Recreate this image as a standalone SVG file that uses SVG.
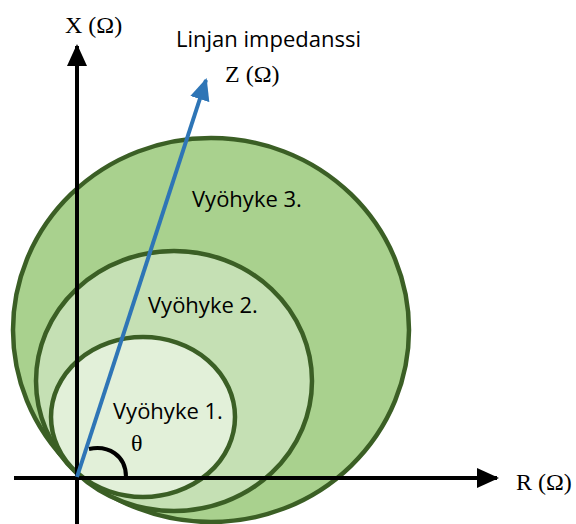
<svg xmlns="http://www.w3.org/2000/svg" width="576" height="524" viewBox="0 0 576 524">
<style>
.zone{stroke:#3b5f25;stroke-width:4.5}
.ax{stroke:#000;stroke-width:4;fill:none}
.sans{font-family:"Open Sans","Liberation Sans",sans-serif;font-size:22px;fill:#000}
.serif{font-family:"Liberation Serif","DejaVu Serif",serif;font-size:24px;fill:#000}
</style>
<defs>
<marker id="ab" markerUnits="userSpaceOnUse" markerWidth="22" markerHeight="20" refX="20" refY="10" orient="auto">
<path d="M0,0 L22,10 L0,20 Z" fill="#000"/>
</marker>
<marker id="bb" markerUnits="userSpaceOnUse" markerWidth="22" markerHeight="20" refX="20" refY="10" orient="auto">
<path d="M0,0 L22,10 L0,20 Z" fill="#2e75b6"/>
</marker>
</defs>
<g id="zone3"><ellipse class="zone" cx="211" cy="330" rx="198" ry="192" fill="#a9d18e"/></g>
<g id="zone2"><ellipse class="zone" cx="174" cy="381" rx="138" ry="130" fill="#c5e0b4"/></g>
<g id="zone1"><ellipse class="zone" cx="143" cy="417" rx="92" ry="80" fill="#e2f0d9"/></g>
<g id="connectors">
<line id="x-axis" class="ax" x1="77" y1="524" x2="77" y2="46" marker-end="url(#ab)"/>
<line id="r-axis" class="ax" x1="14" y1="478" x2="497" y2="478" marker-end="url(#ab)"/>
<line id="z-line" x1="77" y1="477" x2="206" y2="80" stroke="#2e75b6" stroke-width="4" marker-end="url(#bb)"/>
<path id="theta-arc" class="ax" d="M89,449 C108,445 126,455 126,477"/>
</g>
<g id="labels">
<text class="serif" x="65" y="33">X (Ω)</text>
<text class="sans" x="176" y="47">Linjan impedanssi</text>
<text class="serif" x="225" y="82">Z (Ω)</text>
<text class="sans" x="192" y="207">Vyöhyke 3.</text>
<text class="sans" x="148" y="313">Vyöhyke 2.</text>
<text class="sans" x="113" y="419">Vyöhyke 1.</text>
<text class="serif" x="131" y="451">θ</text>
<text class="serif" x="516" y="490">R (Ω)</text>
</g>
</svg>
